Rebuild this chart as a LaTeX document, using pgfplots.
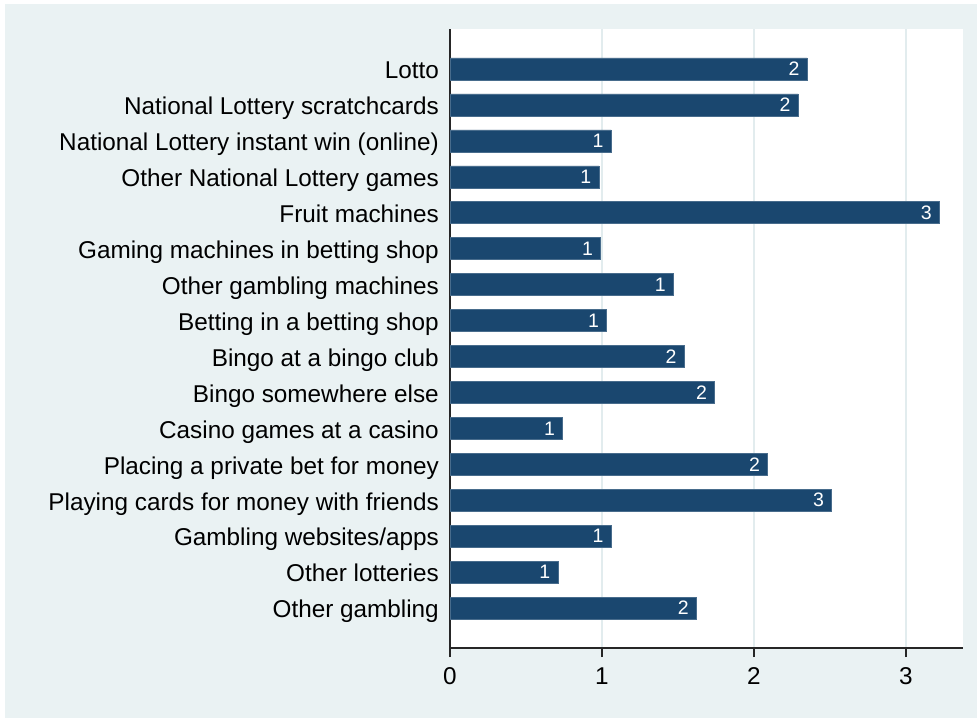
\documentclass[border=0pt]{standalone}
\usepackage{pgfplots}
\pgfplotsset{compat=1.18}
\usepackage{pgfplotstable}
\usepackage{fontspec}
\setmainfont{Liberation Sans}
\definecolor{stnavy}{RGB}{26,71,111}
\definecolor{stbg}{RGB}{234,242,243}
\definecolor{stgrid}{RGB}{226,236,238}
\pgfplotstableread{
y val lab
1 1.62 2
2 0.71 1
3 1.06 1
4 2.51 3
5 2.09 2
6 0.74 1
7 1.74 2
8 1.54 2
9 1.03 1
10 1.47 1
11 0.99 1
12 3.22 3
13 0.98 1
14 1.06 1
15 2.29 2
16 2.35 2
}\datatable
\begin{document}
\begin{tikzpicture}
\path[use as bounding box] (0,0) rectangle (977bp,-718bp);
\fill[white] (0,0) rectangle (977bp,-718bp);
\fill[stbg] (5bp,-4bp) rectangle (977bp,-718bp);
\begin{axis}[
  at={(450bp,-648bp)}, anchor=south west,
  width=513bp, height=619bp, scale only axis,
  xmin=0, xmax=3.375, ymin=-0.113, ymax=17.113,
  xbar, bar width=22bp,
  axis x line*=bottom, axis y line*=left,
  axis line style={black!85, line width=1.2bp},
  axis background/.style={fill=white},
  xtick={0,1,2,3},
  xmajorgrids, grid style={stgrid, line width=1.3bp},
  xtick style={black!85, line width=1.2bp},
  tick align=outside, major tick length=9bp,
  ytick={1,...,16},
  ytick style={draw=none},
  yticklabels={Other gambling, Other lotteries, Gambling websites/apps, Playing cards for money with friends, Placing a private bet for money, Casino games at a casino, Bingo somewhere else, Bingo at a bingo club, Betting in a betting shop, Other gambling machines, Gaming machines in betting shop, Fruit machines, Other National Lottery games, National Lottery instant win (online), National Lottery scratchcards, Lotto},
  typeset ticklabels with strut,
  tick label style={font=\fontsize{24.3bp}{29bp}\selectfont},
  yticklabel style={inner sep=0pt, xshift=-2bp, yshift=-4bp},
  xticklabel style={yshift=-4bp},
  /pgf/number format/assume math mode=true,
  nodes near coords,
  point meta=explicit symbolic,
  nodes near coords style={white, anchor=east, xshift=-4bp, font=\fontsize{19.5bp}{23bp}\selectfont},
]
\addplot[fill=stnavy, draw=stnavy!80!white, line width=0.6bp] table[x=val, y=y, meta=lab]{\datatable};
\end{axis}
\end{tikzpicture}
\end{document}
